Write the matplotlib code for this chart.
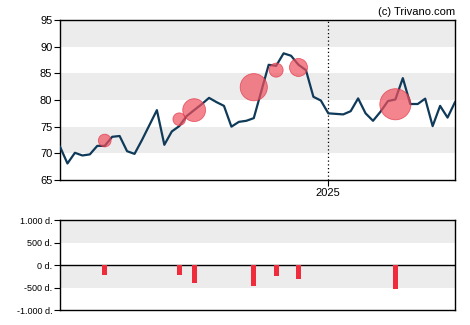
import matplotlib.pyplot as plt

plt.rcParams['font.family'] = ['Liberation Sans', 'DejaVu Sans']

# weekly closing prices (index 36 = start of 2025)
price = [71.25, 68.1, 70.1, 69.6, 69.8, 71.4, 71.4, 73.1, 73.25, 70.4,
         69.9, 72.5, 75.3, 78.1, 71.6, 74.1, 75.1, 77.0, 78.1, 79.2,
         80.4, 79.6, 78.9, 75.0, 75.9, 76.1, 76.6, 81.6, 86.6, 86.4,
         88.75, 88.3, 86.6, 85.6, 80.6, 79.9, 77.5, 77.4, 77.3, 77.9,
         80.3, 77.5, 76.1, 77.8, 79.8, 80.1, 84.1, 79.25, 79.25, 80.25,
         75.1, 78.9, 76.7, 79.6]
year_idx = 36
year_label = '2025'

# insider sales: week index, price level, volume (thousand shares)
trade_idx = [6, 16, 18, 26, 29, 32, 45]
trade_price = [72.4, 76.4, 78.1, 82.4, 85.6, 86.1, 79.2]
trade_vol = [-217, -215, -389, -463, -239, -306, -530]

price_ticks = [65, 70, 75, 80, 85, 90, 95]
vol_ticks = [-1000, -500, 0, 500, 1000]
vol_labels = ['-1.000 d.', '-500 d.', '0 d.', '500 d.', '1.000 d.']

fig = plt.figure(figsize=(4.7, 3.25), dpi=100)
ax = fig.add_axes([60/470, 1-180/325, 395/470, 160/325])
ax2 = fig.add_axes([60/470, 1-310/325, 395/470, 89.7/325])

for lo in [70, 80, 90]:
    ax.axhspan(lo, lo+5, color='#ececec', lw=0, zorder=0)
ax.plot(range(len(price)), price, color='#0f3a59', lw=1.6, zorder=3)
sizes = [(abs(v)/43.0)**2 * 3.3 for v in trade_vol]
ax.scatter(trade_idx, trade_price, s=sizes, color='#f0505e', alpha=0.7,
           edgecolors='#e03040', linewidths=0.6, zorder=4)
ax.axvline(year_idx, color='black', ls=(0, (1, 2)), lw=0.9, zorder=2)
ax.set_xlim(0, len(price)-1)
ax.set_ylim(65, 95)
ax.set_yticks(price_ticks)
ax.set_xticks([year_idx])
ax.set_xticklabels([year_label])
ax.tick_params(labelsize=8, length=4, width=0.8, pad=1.5)
for s in ax.spines.values():
    s.set_linewidth(1.0)
ax.text(1.0, 1.02, '(c) Trivano.com', transform=ax.transAxes,
        ha='right', va='bottom', fontsize=8)

ax2.axhspan(500, 1000, color='#ececec', lw=0, zorder=0)
ax2.axhspan(-500, 0, color='#ececec', lw=0, zorder=0)
ax2.axhline(0, color='black', lw=1.0, zorder=2)
ax2.bar(trade_idx, trade_vol, width=0.65, color='#ee2c3c', zorder=3)
ax2.set_xlim(0, len(price)-1)
ax2.set_ylim(-1000, 1000)
ax2.set_yticks(vol_ticks)
ax2.set_yticklabels(vol_labels)
ax2.set_xticks([])
ax2.tick_params(labelsize=6.5, length=4, width=0.8, pad=1.5)
for s in ax2.spines.values():
    s.set_linewidth(1.0)

fig.savefig('out.png', dpi=100)
